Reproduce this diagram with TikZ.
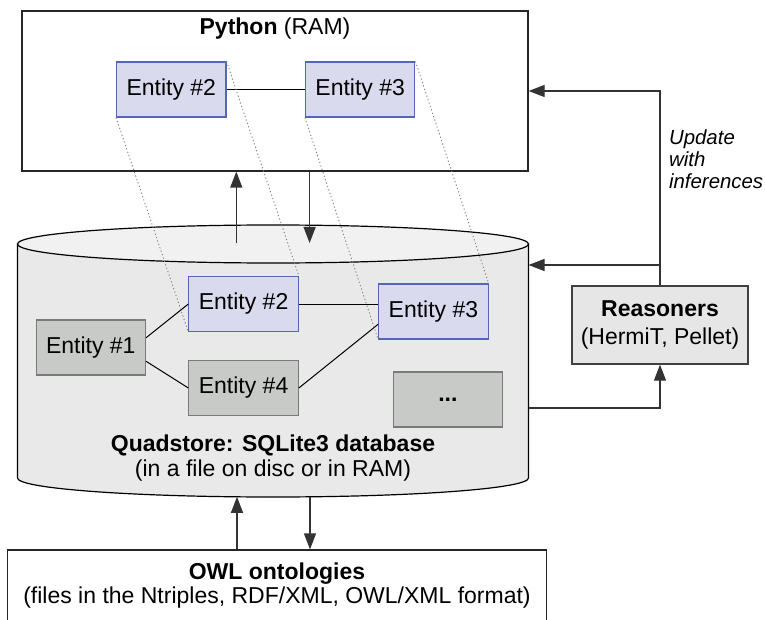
\documentclass[tikz,border=0pt]{standalone}
\usepackage{fontspec}
\setmainfont{Liberation Sans}
\usepackage{tikz}
\usetikzlibrary{arrows.meta,positioning}
\definecolor{entblue}{RGB}{218,218,238}
\definecolor{entblueline}{RGB}{84,102,184}
\definecolor{entgray}{RGB}{200,202,200}
\definecolor{entgrayline}{RGB}{122,122,122}
\definecolor{cylbody}{RGB}{233,233,233}
\definecolor{cyltop}{RGB}{240,241,240}
\definecolor{reasfill}{RGB}{230,230,230}
\tikzset{
  entity/.style={draw=entblueline,fill=entblue,line width=.55pt,minimum width=54.7pt,minimum height=27.5pt,inner sep=0pt,font=\fontsize{11.5}{13}\selectfont},
  graybox/.style={entity,draw=entgrayline,fill=entgray},
  flow/.style={-{Triangle[length=8pt,width=6pt]},line width=.6pt,draw=black!80},
  link/.style={line width=.5pt,draw=black},
  mapline/.style={draw=gray,line width=.45pt,dash pattern=on .6pt off 1.2pt}
}

\begin{document}
\begin{tikzpicture}[
  x=0.5pt,y=-0.5pt,
  font=\fontsize{11.5}{12.5}\selectfont,
  container/.style={draw=black!85,line width=.6pt,inner sep=0pt},
  cylside/.style={draw=black,fill=cylbody,line width=.6pt},
  cyllid/.style={draw=black,fill=cyltop,line width=.6pt},
  note/.style={font=\fontsize{10.2}{11}\selectfont\itshape,align=left}
]
\useasboundingbox (0,0) rectangle (765,620);
\clip (0,0) rectangle (765,620);

% database cylinder
\filldraw[cylside] (17.5,244) -- (17.5,478)
  arc[start angle=180,end angle=0,x radius=255.5,y radius=19] -- (528.5,244) -- cycle;
\filldraw[cyllid] (273,244) ellipse[x radius=255.5,y radius=19];

\coordinate (dbUp)   at (236.3,243);
\coordinate (dbDown) at (309.6,243);
\coordinate (dbIn)   at (528.5,265);
\coordinate (dbOut)  at (528.5,408);
\coordinate (dbBotL) at (237,496.8);
\coordinate (dbBotR) at (310,496.8);

% python side
\node[container,minimum width=253pt,minimum height=80pt] (python) at (275,91) {};
\node (pytitle) at (275,29) {\textbf{Python} (RAM)};

\node[entity] (pyA) at (171.3,89.5) {Entity \#2};
\node[entity] (pyB) at (360.2,89.5) {Entity \#3};
\draw[link] (pyA) -- (pyB);

% quadstore entities
\node[graybox] (eOne)   at (90.8,347.5)  {Entity \#1};
\node[entity]  (eTwo)   at (243.6,304)   {Entity \#2};
\node[entity]  (eThree) at (433.4,311.5) {Entity \#3};
\node[graybox] (eFour)  at (243.6,388)   {Entity \#4};
\node[graybox] (eMore)  at (447.9,399.5) {\textbf{...}};

\draw[link] (eOne.10) -- (eTwo.west);
\draw[link] (eOne.-14) -- (eFour.west);
\draw[link] (eTwo.east) -- (eTwo.east -| eThree.west);
\draw[link] (eFour.east) -- (eThree.193);

\foreach \a/\b in {pyA/eTwo,pyB/eThree}{
  \draw[mapline] (\a.south west) -- (\b.south west)
                 (\a.north east) -- (\b.north east);
}

\node[align=center] (dblabel) at (273,458.5)
  {\textbf{Quadstore: SQLite3 database}\\(in a file on disc or in RAM)};

\draw[flow] (dbUp) -- (dbUp |- python.south);
\draw[flow] (dbDown |- python.south) -- (dbDown);

% reasoners
\node[draw=black!75,fill=reasfill,line width=.6pt,minimum width=88pt,minimum height=39pt,
      inner sep=0pt,align=center,font=\fontsize{11.5}{14}\selectfont] (reas) at (660,325)
  {\textbf{Reasoners}\\(HermiT, Pellet)};

\draw[flow] (reas.north) |- (python.east);
\draw[flow] (reas.north |- dbIn) -- (dbIn);
\draw[flow] (dbOut) -| (reas.south);

\node[note,anchor=west] (update) at (662,159) {Update\\with\\inferences};

% ontology files
\node[container,minimum width=269.7pt,minimum height=36pt,align=center,
      font=\fontsize{11.5}{12}\selectfont] (owl) at (277,586)
  {\textbf{OWL ontologies}\\(files in the Ntriples, RDF/XML, OWL/XML format)};

\draw[flow] (owl.north -| dbBotL) -- (dbBotL);
\draw[flow] (dbBotR) -- (owl.north -| dbBotR);

\end{tikzpicture}
\end{document}
